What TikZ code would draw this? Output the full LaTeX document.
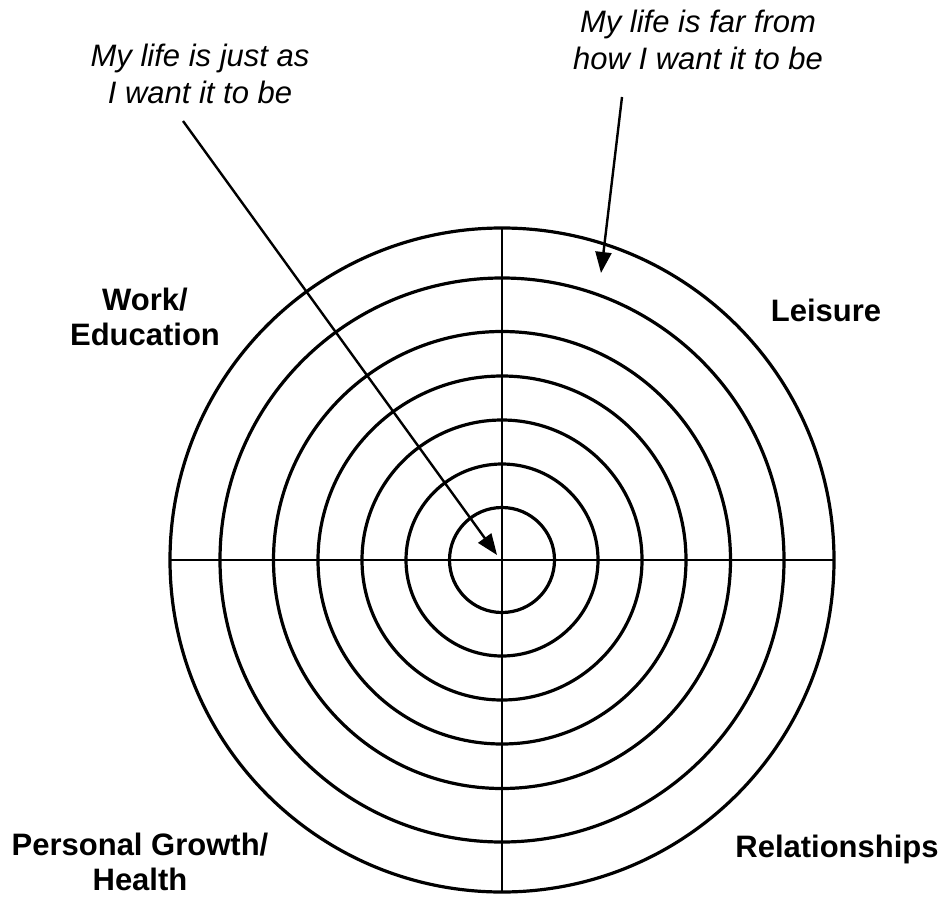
\documentclass[tikz,border=0pt]{standalone}
\usepackage{fontspec}
\setmainfont{Liberation Sans}
\usetikzlibrary{arrows.meta}
\begin{document}
\begin{tikzpicture}[x=1pt,y=-1pt,
  ring/.style={line width=3.2pt},
  axis/.style={line width=2.9pt},
  pointer/.style={line width=2.4pt,-{Triangle[length=21pt,width=16pt]}},
  note/.style={font=\fontsize{31}{37}\selectfont\itshape,align=center,inner sep=0pt,anchor=base},
  area/.style={font=\fontsize{31}{35}\selectfont\bfseries,align=center,inner sep=0pt,anchor=base}]
\useasboundingbox (0,0) rectangle (944,896);
\coordinate (c) at (502,560);
\foreach \r in {332,282,228.5,184,140,96,52.5}
  \draw[ring] (c) circle[radius=\r];
\draw[axis] (170,560) -- (834,560);
\draw[axis] (502,228) -- (502,892);
\node[note] (just) at (200,104) {My life is just as\\I want it to be};
\node[note] (far) at (698,70) {My life is far from\\how I want it to be};
\node[area] (work) at (145,345) {Work/\\Education};
\node[area] (leisure) at (826,321) {Leisure};
\node[area] (growth) at (140,890) {Personal Growth/\\Health};
\node[area] (rel) at (837,857) {Relationships};
\coordinate (s1) at (183,121);
\coordinate (t1) at (497,555);
\coordinate (s2) at (622,97);
\coordinate (t2) at (601,273);
\draw[pointer] (s1) -- (t1);
\draw[pointer] (s2) -- (t2);
\end{tikzpicture}
\end{document}
